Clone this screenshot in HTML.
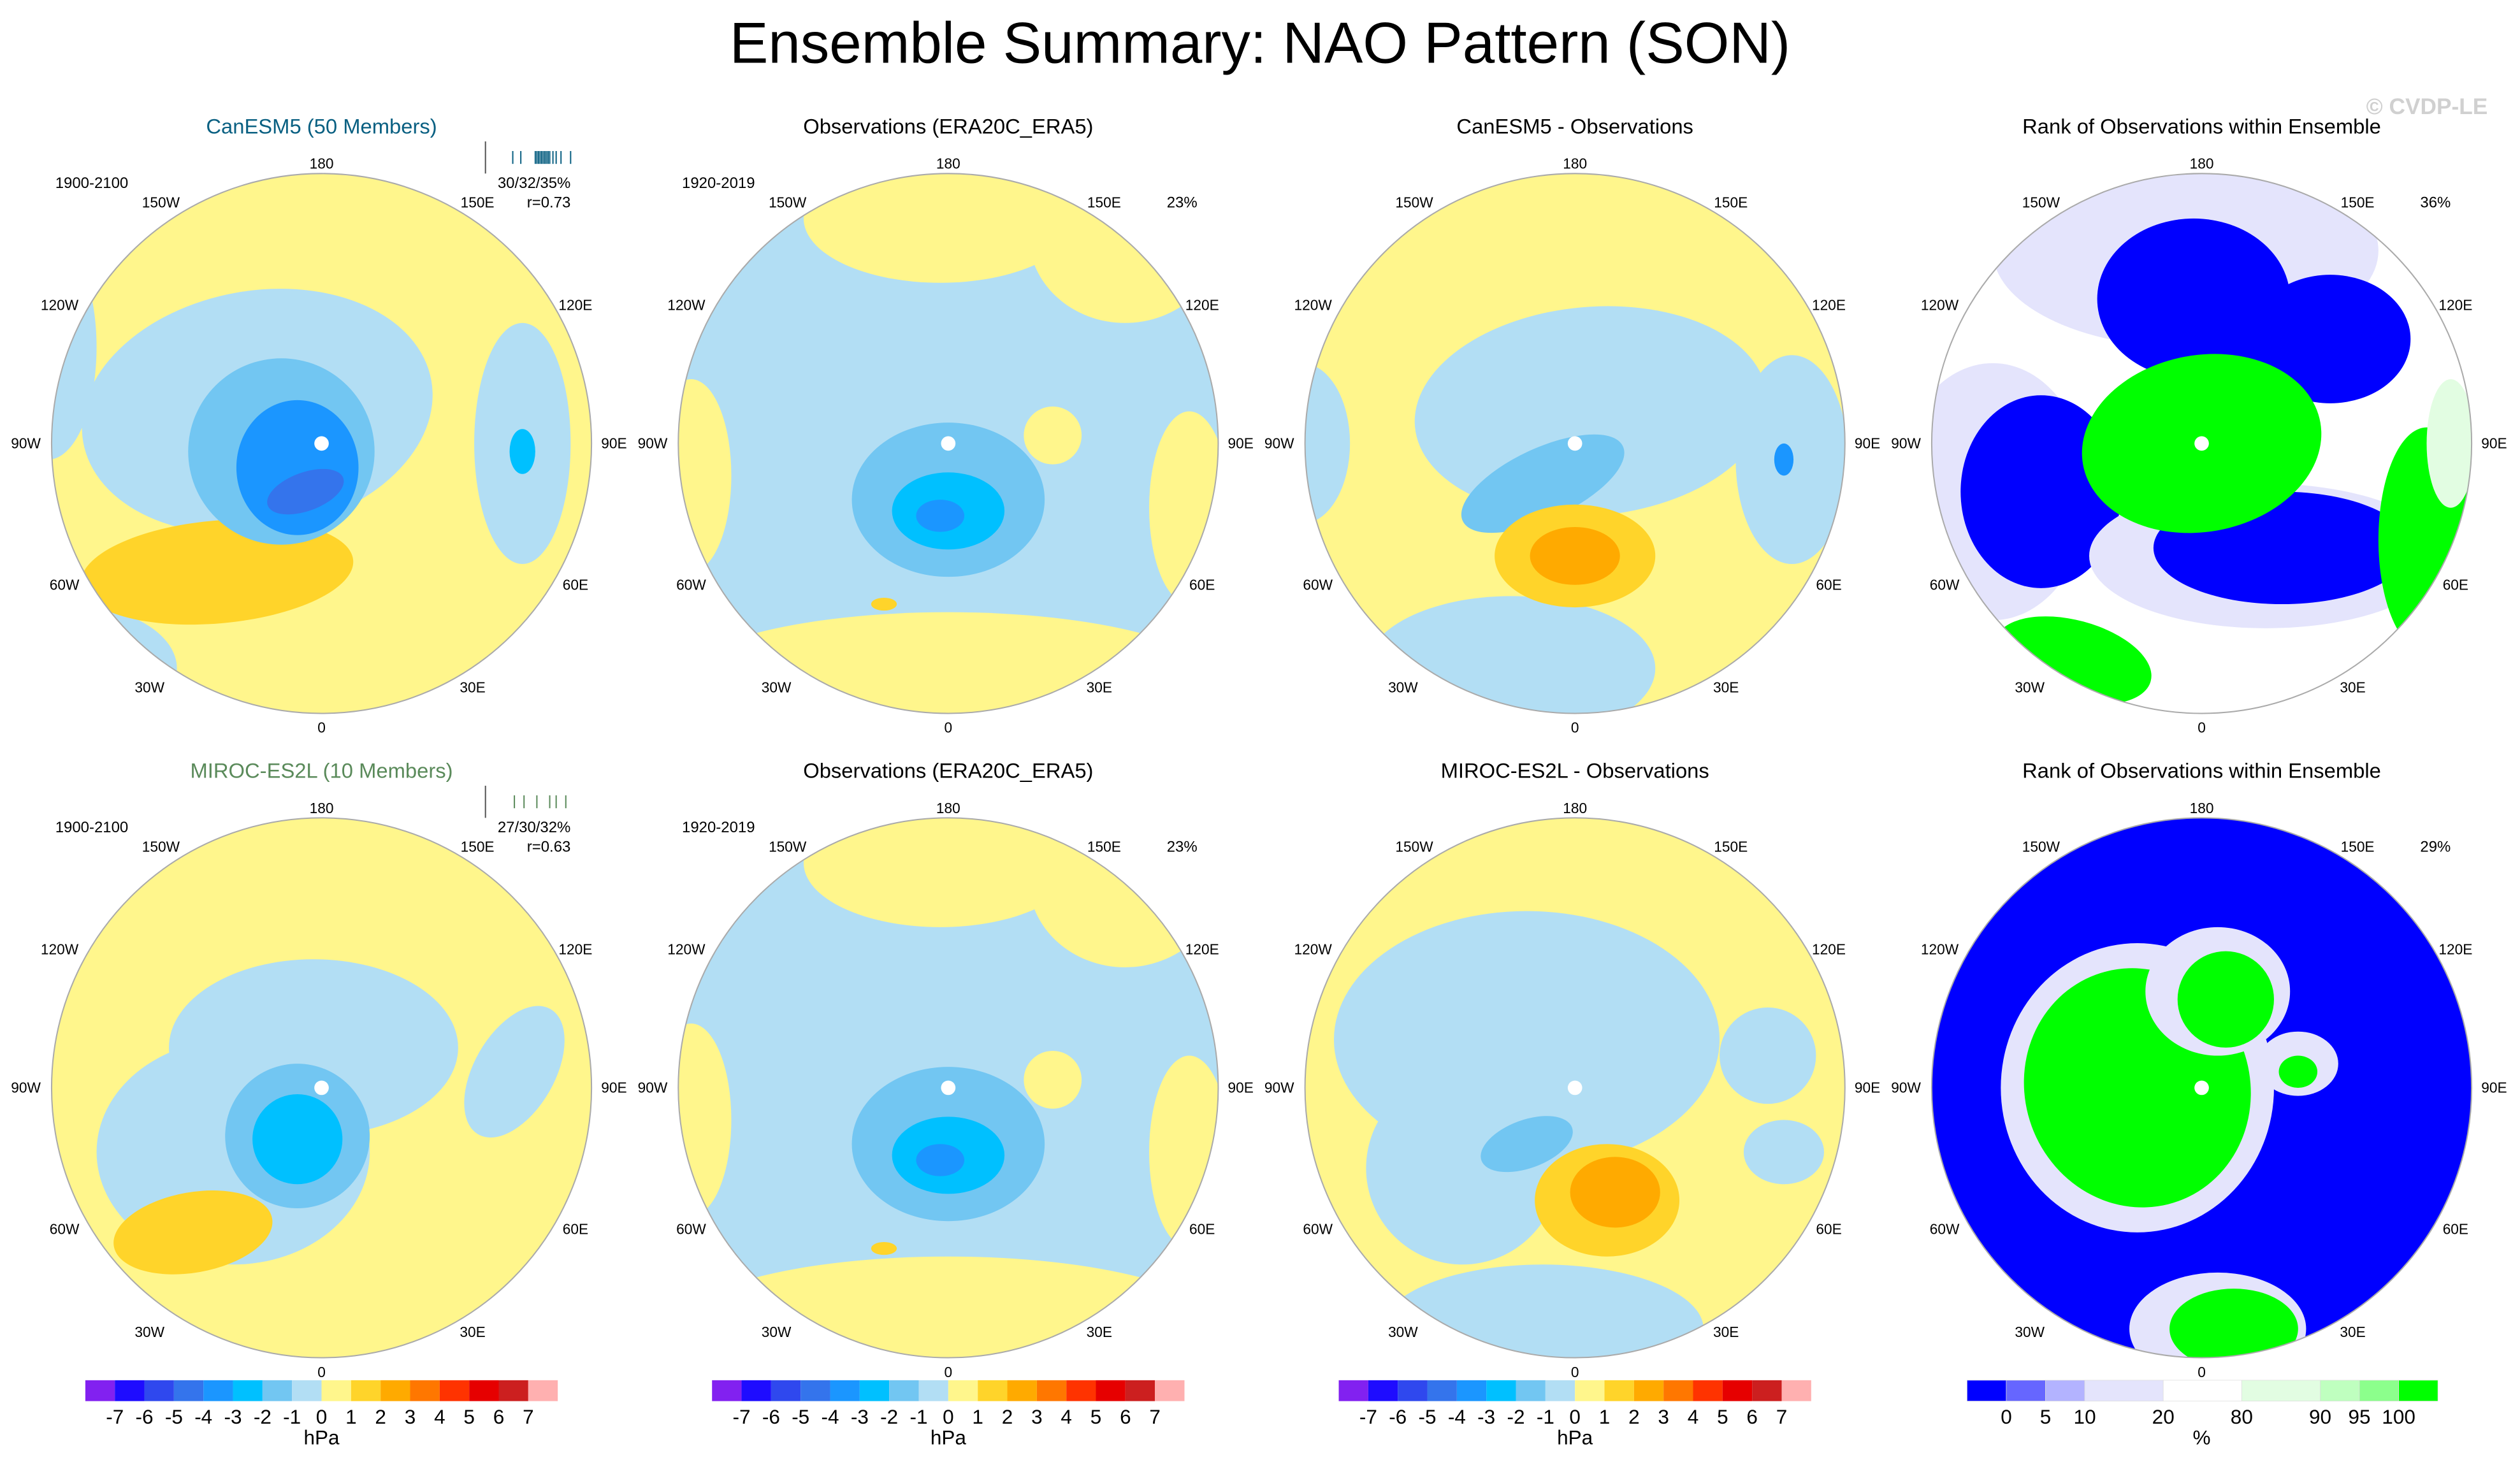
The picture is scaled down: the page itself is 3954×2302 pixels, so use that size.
<!DOCTYPE html>
<html><head><meta charset="utf-8"><style>
html,body{margin:0;padding:0;background:#fff;}
svg{display:block;font-family:"Liberation Sans",sans-serif;}
</style></head><body>
<svg id="fig" width="3954" height="2302" viewBox="0 0 1568 913" xmlns="http://www.w3.org/2000/svg">
<text x="784" y="39" font-size="36" text-anchor="middle">Ensemble Summary: NAO Pattern (SON)</text>
<text x="1548" y="71" font-size="14" fill="#d0d0d0" text-anchor="end" font-weight="bold">© CVDP-LE</text>
</svg>
<script>
const hpaLevels=[-7,-6,-5,-4,-3,-2,-1,0,1,2,3,4,5,6,7];
const hpaColors=["#8221f0","#1e0cff","#2f48ee","#3474ec","#1b96ff","#00c0ff","#72c6f2","#b2def4","#fff68c","#ffd42a","#ffaa00","#ff7700","#ff3300","#e60000","#cc1f1f","#ffb0b0"];
const rankLabels=["0","5","10","20","80","90","95","100"];
const rankColors=["#0000ff","#6666ff","#b3b3ff","#e4e4fc","#ffffff","#e2fde2","#bfffbf","#8cff8c","#00ff00"];
const lonLabels=["180","150E","120E","90E","60E","30E","0","30W","60W","90W","120W","150W"];
const NS="http://www.w3.org/2000/svg";
const svg=document.getElementById("fig");
const R=168;
const lonOff=[[0,-174],[97,-150],[158,-86],[182,0],[158,88],[94,152],[0,177],[-107,152],[-160,88],[-184,0],[-163,-86],[-100,-150]];
function el(tag,attrs,parent){const e=document.createElementNS(NS,tag);for(const k in attrs)e.setAttribute(k,attrs[k]);(parent||svg).appendChild(e);return e;}
function blob(g,cx,cy,rx,ry,fill,rot){const e=el("ellipse",{cx:cx,cy:cy,rx:rx,ry:ry,fill:fill,transform:"rotate("+(rot||0)+" "+cx+" "+cy+")"},g);

return e;}
let clipId=0;
function panel(cx,cy,base,title,titleColor,leftLbl,rightLbl,shapes,name){
 const g=el("g",{});
 
 
 const id="c"+(clipId++);
 const cp=el("clipPath",{id:id},g);el("circle",{cx:cx,cy:cy,r:R},cp);
 const m=el("g",{"clip-path":"url(#"+id+")"},g);
 const bg=el("circle",{cx:cx,cy:cy,r:R,fill:base},m);
 
 
 shapes.forEach(s=>blob(m,cx+s[0],cy+s[1],s[2],s[3],s[4],s[5]));
 const rim=el("circle",{cx:cx,cy:cy,r:R,fill:"none",stroke:"#aaa","stroke-width":0.8},g);
 
 
 const t=el("text",{x:cx,y:cy-193,"font-size":13,"text-anchor":"middle",fill:titleColor},g);t.textContent=title;
 
 
 lonLabels.forEach((l,i)=>{
  const tx=el("text",{x:cx+lonOff[i][0],y:cy+lonOff[i][1]+3,"font-size":9,"text-anchor":"middle"},g);tx.textContent=l;
  
  });
 if(leftLbl){const a=el("text",{x:cx-143,y:cy-159,"font-size":9.5,"text-anchor":"middle"},g);a.textContent=leftLbl;
  
  }
 if(rightLbl){rightLbl.forEach((s,i)=>{const b=el("text",{x:cx+155,y:cy-159+i*12+(rightLbl.length==1?12:0),"font-size":9.5,"text-anchor":"end"},g);b.textContent=s;
  
  });}
 el("circle",{cx:cx,cy:cy,r:4.5,fill:"#fff"},g);
 return g;
}
const Y="#fff68c",LB="#b2def4",B2="#72c6f2",B3="#00c0ff",B4="#1b96ff",O1="#ffd42a",O2="#ffaa00";
const BL="#0000ff",LV="#e4e4fc",GR="#00ff00",LG="#e2fde2";
const canesm=[[-170,-60,30,70,LB],[-40,-20,110,75,LB,-10],[-160,140,70,40,LB],[125,0,30,75,LB],[-65,80,85,32,O1,-5],[-25,5,58,58,B2],[-15,15,38,42,B4],[-10,30,25,12,"#3474ec",-20],[125,5,8,14,B3]];
const obs=[[-5,-140,85,40,Y],[110,-130,60,55,Y],[0,150,170,45,Y],[-160,20,25,60,Y],[150,40,25,60,Y],[65,-5,18,18,Y],[0,35,60,48,B2],[0,42,35,24,B3],[-5,45,15,10,B4],[-40,100,8,4,O1]];
const diff=[[10,-20,110,65,LB,-5],[135,10,35,65,LB],[-40,140,90,45,LB],[-170,0,30,50,LB],[-20,25,55,22,B2,-25],[0,70,50,32,O1],[0,70,28,18,O2],[130,10,6,10,B4]];
const rank1=[[-10,-120,120,60,LV],[-5,-90,60,50,BL],[80,-65,50,40,BL],[-130,30,60,80,LV],[-100,30,50,60,BL],[40,70,110,45,LV],[50,65,80,35,BL],[0,0,75,55,GR,-10],[-80,135,50,25,GR,15],[140,60,30,70,GR],[155,0,15,40,LG]];
const rank2=[[-40,0,85,90,LV],[-40,0,70,75,GR,-20],[10,-60,45,40,LV],[15,-55,30,30,GR],[10,150,55,35,LV],[20,150,40,25,GR],[60,-15,25,20,LV],[60,-10,12,10,GR]];
const miroc=[[-5,-25,90,55,LB],[-55,40,85,70,LB],[120,-10,25,45,LB,30],[-15,30,45,45,B2],[-15,32,28,28,B3],[-80,90,50,25,O1,-10]];
const diff2=[[-30,-30,120,80,LB],[-70,50,60,60,LB],[120,-20,30,30,LB],[130,40,25,20,LB],[-20,150,100,40,LB],[-30,35,30,15,B2,-20],[20,70,45,35,O1],[25,65,28,22,O2]];
panel(200,276,Y,"CanESM5 (50 Members)","#0a6082","1900-2100",["30/32/35%","r=0.73"],canesm,"canesm5-pattern-map");
panel(590,276,LB,"Observations (ERA20C_ERA5)","#000","1920-2019",["23%"],obs,"obs-pattern-map-top");
panel(980,276,Y,"CanESM5 - Observations","#000",null,null,diff,"canesm5-minus-obs-map");
panel(1370,276,"#fff","Rank of Observations within Ensemble","#000",null,["36%"],rank1,"rank-map-top");
panel(200,677,Y,"MIROC-ES2L (10 Members)","#5a8a5a","1900-2100",["27/30/32%","r=0.63"],miroc,"miroc-pattern-map");
panel(590,677,LB,"Observations (ERA20C_ERA5)","#000","1920-2019",["23%"],obs,"obs-pattern-map-bottom");
panel(980,677,Y,"MIROC-ES2L - Observations","#000",null,null,diff2,"miroc-minus-obs-map");
panel(1370,677,BL,"Rank of Observations within Ensemble","#000",null,["29%"],rank2,"rank-map-bottom");
function spread(x0,y0,col,vals,name){const g=el("g",{});
 
 
 el("line",{x1:x0,y1:y0,x2:x0,y2:y0+20,stroke:"#555","stroke-width":0.8},g);
 vals.forEach(v=>el("line",{x1:x0+v,y1:y0+6,x2:x0+v,y2:y0+14,stroke:col,"stroke-width":0.8},g));}
spread(302,88,"#0a6082",[17,22,31,32,33,34,35,36,37,38,39,40,42,44,47,53],"canesm5-member-spread");
spread(302,489,"#5a8a5a",[18,24,32,40,44,50],"miroc-member-spread");
function hpaBar(x0,name){const g=el("g",{});
 
 
 const w=294/hpaColors.length;
 hpaColors.forEach((c,i)=>{const r=el("rect",{x:x0+i*w,y:859,width:w,height:13,fill:c},g);
  
  });
 hpaLevels.forEach((v,i)=>{const t=el("text",{x:x0+(i+1)*w,y:886,"font-size":12.5,"text-anchor":"middle"},g);t.textContent=v;
  
  });
 const u=el("text",{x:x0+147,y:899,"font-size":12.5,"text-anchor":"middle"},g);u.textContent="hPa";
 
 }
hpaBar(53,"colorbar-canesm5");hpaBar(443,"colorbar-obs");hpaBar(833,"colorbar-diff");
(function(){const g=el("g",{});
 
 
 const x0=1224,x1=1517;
 const units=[1,1,1,2,2,2,1,1,1];const tot=units.reduce((a,b)=>a+b,0);let x=x0;const bounds=[];
 rankColors.forEach((c,i)=>{const ww=(x1-x0)*units[i]/tot;const r=el("rect",{x:x,y:859,width:ww,height:13,fill:c,stroke:"#ddd","stroke-width":0.3},g);
  
  
  x+=ww;bounds.push(x);});
 rankLabels.forEach((l,i)=>{const t=el("text",{x:bounds[i],y:886,"font-size":12.5,"text-anchor":"middle"},g);t.textContent=l;
  
  });
 const u=el("text",{x:1370,y:899,"font-size":12.5,"text-anchor":"middle"},g);u.textContent="%";
 
 })();
</script>
</body></html>
